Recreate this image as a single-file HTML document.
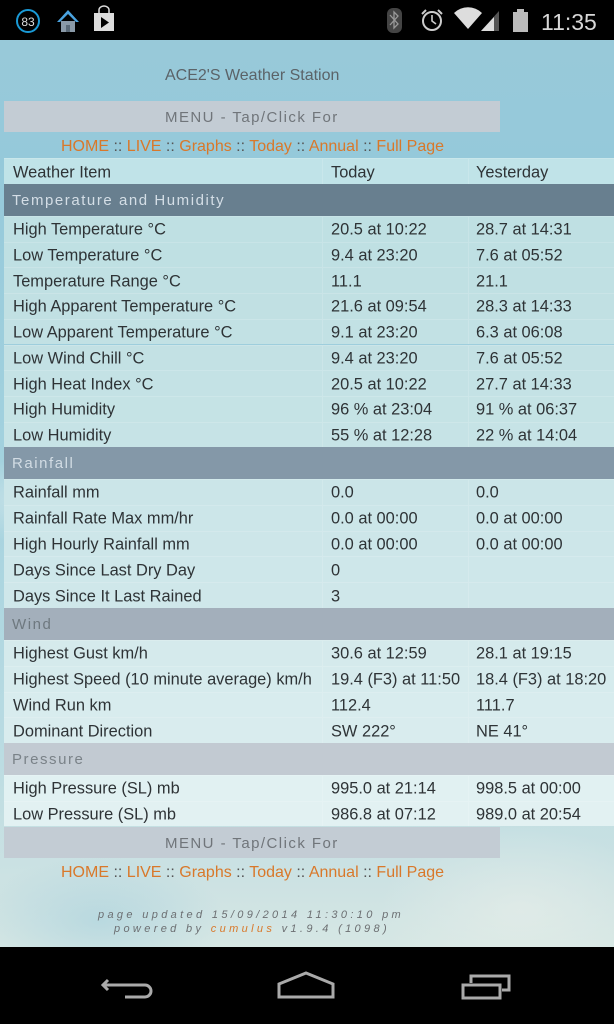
<!DOCTYPE html>
<html><head><meta charset="utf-8">
<style>
*{margin:0;padding:0;box-sizing:border-box}
html,body{width:614px;height:1024px;overflow:hidden;background:#000}
body{position:relative;font-family:"Liberation Sans",Arial,sans-serif}
.sb{position:absolute;left:0;top:0;width:614px;height:40px;background:#000}
.bg{position:absolute;left:0;top:40px;width:614px;height:907px;
 background:
 radial-gradient(ellipse 200px 120px at 520px 870px, rgba(235,240,235,0.55), rgba(235,240,235,0) 70%),
 radial-gradient(ellipse 180px 90px at 100px 880px, rgba(160,205,220,0.5), rgba(160,205,220,0) 70%),
 radial-gradient(ellipse 160px 60px at 40px 460px, rgba(230,240,240,0.5), rgba(230,240,240,0) 70%),
 linear-gradient(#98c9d9 0px,#95c9da 120px,#a2d1de 400px,#b9dbe2 700px,#cfe3e3 860px,#d6e7e4 907px);}
.nav{position:absolute;left:0;top:947px;width:614px;height:77px;background:#000}
.t{position:absolute;white-space:nowrap}
.title{left:165px;top:67px;font-size:16px;color:#5b6368}
.menu{position:absolute;left:4px;width:496px;height:31px;background:#c3ccd4;color:#70757a;font-size:15px;letter-spacing:1.45px;line-height:31px}
.menu span{position:absolute;left:161px;top:1px}
.links{position:absolute;left:61px;font-size:16px;color:#d9782a;white-space:nowrap;letter-spacing:0px}
.links i{font-style:normal;color:#555}
.row{position:absolute;left:4px;width:610px;font-size:16.4px;color:#2e3336;border-top:1px solid rgba(255,255,255,0.15)}
.row span{position:absolute;top:50%;transform:translateY(-45%);white-space:nowrap}
.c1{left:9px}.c2{left:327px}.c3{left:472px}
.row:before,.row:after{content:"";position:absolute;top:0;bottom:0;width:1px;background:rgba(255,255,255,0.15)}
.row:before{left:318px}.row:after{left:464px}
.sec{position:absolute;left:4px;width:610px;height:32px;font-size:15px;letter-spacing:1.55px;line-height:34px;padding-left:8px}
.foot{position:absolute;font-style:italic;font-size:11px;letter-spacing:3.35px;color:#6c6f72;white-space:nowrap}
</style></head><body>
<div class="sb">
<svg width="614" height="40" style="position:absolute;left:0;top:0">
 <circle cx="28" cy="21" r="11" fill="none" stroke="#1a9ad6" stroke-width="2"/>
 <text x="28" y="26" font-family="Liberation Sans" font-size="12" fill="#ddd" text-anchor="middle">83</text>
 <polygon points="57,22 68,10 79,22 76,22 68,14 60,22" fill="#4aa3e0"/>
 <rect x="61" y="21" width="14" height="11" fill="#8a9aa8"/>
 <rect x="66" y="25" width="4" height="7" fill="#5a6a78"/>
 <path d="M94 13 h20 v18 h-20 z" fill="#ddd"/>
 <path d="M99 13 v-3 a5 4 0 0 1 10 0 v3" fill="none" stroke="#ddd" stroke-width="1.5"/>
 <polygon points="101,17 101,28 109,22.5" fill="#000"/>
 <rect x="387" y="8" width="15" height="25" rx="6" fill="#444"/>
 <path d="M390 15 l8 9 l-4 4 v-16 l4 4 l-8 9" fill="none" stroke="#999" stroke-width="1.3"/>
 <circle cx="432" cy="21" r="9" fill="none" stroke="#ccc" stroke-width="2"/>
 <path d="M432 15 v6 l4 3" fill="none" stroke="#ccc" stroke-width="1.6"/>
 <path d="M422 14 l4 -4 M442 14 l-4 -4" stroke="#ccc" stroke-width="2"/>
 <path d="M454 13 a20 20 0 0 1 28 0 L468 29 Z" fill="#ddd"/>
 <polygon points="481,31 499,31 499,11" fill="#555"/>
 <polygon points="481,31 494,31 494,17" fill="#ddd"/>
 <rect x="513" y="12" width="15" height="20" fill="#bbb"/>
 <rect x="517" y="9" width="7" height="3" fill="#bbb"/>
 <text x="541" y="30" font-family="Liberation Sans" font-size="23" fill="#d8d8d8">11:35</text>
</svg>
</div>
<div class="bg"></div>

<div class="t title">ACE2'S Weather Station</div>
<div class="menu" style="top:101px"><span>MENU - Tap/Click For</span></div>
<div class="links" style="top:138px">HOME <i>::</i> LIVE <i>::</i> Graphs <i>::</i> Today <i>::</i> Annual <i>::</i> Full Page</div>

<div class="row" style="top:158px;height:26px;background:rgba(200,232,234,0.85)"><span class="c1">Weather Item</span><span class="c2">Today</span><span class="c3">Yesterday</span></div>
<div class="sec" style="top:184px;background:#687f8f;color:#d4dee6">Temperature and Humidity</div>

<div class="row" style="top:216px;height:25.7px;background:#bfe0e3"><span class="c1">High Temperature °C</span><span class="c2">20.5 at 10:22</span><span class="c3">28.7 at 14:31</span></div>
<div class="row" style="top:241.7px;height:25.7px;background:#bfe0e3"><span class="c1">Low Temperature °C</span><span class="c2">9.4 at 23:20</span><span class="c3">7.6 at 05:52</span></div>
<div class="row" style="top:267.4px;height:25.7px;background:#c0e0e3"><span class="c1">Temperature Range °C</span><span class="c2">11.1</span><span class="c3">21.1</span></div>
<div class="row" style="top:293.1px;height:25.7px;background:#c1e0e3"><span class="c1">High Apparent Temperature °C</span><span class="c2">21.6 at 09:54</span><span class="c3">28.3 at 14:33</span></div>
<div class="row" style="top:318.8px;height:25.7px;background:#c2e1e4"><span class="c1">Low Apparent Temperature °C</span><span class="c2">9.1 at 23:20</span><span class="c3">6.3 at 06:08</span></div>
<div class="row" style="top:344.5px;height:25.7px;background:#c3e1e4"><span class="c1">Low Wind Chill °C</span><span class="c2">9.4 at 23:20</span><span class="c3">7.6 at 05:52</span></div>
<div class="row" style="top:370.2px;height:25.7px;background:#c4e2e5"><span class="c1">High Heat Index °C</span><span class="c2">20.5 at 10:22</span><span class="c3">27.7 at 14:33</span></div>
<div class="row" style="top:395.9px;height:25.7px;background:#c5e3e5"><span class="c1">High Humidity</span><span class="c2">96 % at 23:04</span><span class="c3">91 % at 06:37</span></div>
<div class="row" style="top:421.6px;height:25.4px;background:#c6e3e6"><span class="c1">Low Humidity</span><span class="c2">55 % at 12:28</span><span class="c3">22 % at 14:04</span></div>

<div class="sec" style="top:447px;background:#8498a8;color:#d2dce4">Rainfall</div>
<div class="row" style="top:479px;height:25.8px;background:#cbe5e8"><span class="c1">Rainfall mm</span><span class="c2">0.0</span><span class="c3">0.0</span></div>
<div class="row" style="top:504.8px;height:25.8px;background:#cce6e9"><span class="c1">Rainfall Rate Max mm/hr</span><span class="c2">0.0 at 00:00</span><span class="c3">0.0 at 00:00</span></div>
<div class="row" style="top:530.6px;height:25.8px;background:#cde6e9"><span class="c1">High Hourly Rainfall mm</span><span class="c2">0.0 at 00:00</span><span class="c3">0.0 at 00:00</span></div>
<div class="row" style="top:556.4px;height:25.8px;background:#cee7ea"><span class="c1">Days Since Last Dry Day</span><span class="c2">0</span><span class="c3"></span></div>
<div class="row" style="top:582.2px;height:25.8px;background:#cfe7ea"><span class="c1">Days Since It Last Rained</span><span class="c2">3</span><span class="c3"></span></div>

<div class="sec" style="top:608px;background:#a3afbb;color:#6e787f">Wind</div>
<div class="row" style="top:640px;height:25.75px;background:#d5eaec"><span class="c1">Highest Gust km/h</span><span class="c2">30.6 at 12:59</span><span class="c3">28.1 at 19:15</span></div>
<div class="row" style="top:665.75px;height:25.75px;background:#d6ebed"><span class="c1">Highest Speed (10 minute average) km/h</span><span class="c2">19.4 (F3) at 11:50</span><span class="c3">18.4 (F3) at 18:20</span></div>
<div class="row" style="top:691.5px;height:25.75px;background:#d8ecee"><span class="c1">Wind Run km</span><span class="c2">112.4</span><span class="c3">111.7</span></div>
<div class="row" style="top:717.25px;height:25.75px;background:#d9ecee"><span class="c1">Dominant Direction</span><span class="c2">SW 222°</span><span class="c3">NE 41°</span></div>

<div class="sec" style="top:743px;background:#c2cad2;color:#7a8288">Pressure</div>
<div class="row" style="top:775px;height:25.5px;background:#e1f1f2"><span class="c1">High Pressure (SL) mb</span><span class="c2">995.0 at 21:14</span><span class="c3">998.5 at 00:00</span></div>
<div class="row" style="top:800.5px;height:25.5px;background:#e2f1f2"><span class="c1">Low Pressure (SL) mb</span><span class="c2">986.8 at 07:12</span><span class="c3">989.0 at 20:54</span></div>

<div class="menu" style="top:827px"><span>MENU - Tap/Click For</span></div>
<div class="links" style="top:864px">HOME <i>::</i> LIVE <i>::</i> Graphs <i>::</i> Today <i>::</i> Annual <i>::</i> Full Page</div>

<div class="foot" style="left:98px;top:909px">page updated 15/09/2014 11:30:10 pm</div>
<div class="foot" style="left:114px;top:923px">powered by <span style="color:#d9782a">cumulus</span> v1.9.4 (1098)</div>

<div class="nav">
<svg width="614" height="77" style="position:absolute;left:0;top:0">
 <path d="M108 33 l-5 5 l5 5" fill="none" stroke="#aaa" stroke-width="3"/>
 <path d="M104 38 h41 a6 6 0 0 1 0 12 h-20" fill="none" stroke="#aaa" stroke-width="3"/>
 <path d="M279 50 v-13 l27 -11 l27 11 v13 z" fill="none" stroke="#aaa" stroke-width="3"/>
 <rect x="463" y="38" width="37" height="13" fill="none" stroke="#aaa" stroke-width="3"/>
 <path d="M471 36 v-7 h38 v14 h-7" fill="none" stroke="#aaa" stroke-width="3"/>
</svg>
</div>
</body></html>
